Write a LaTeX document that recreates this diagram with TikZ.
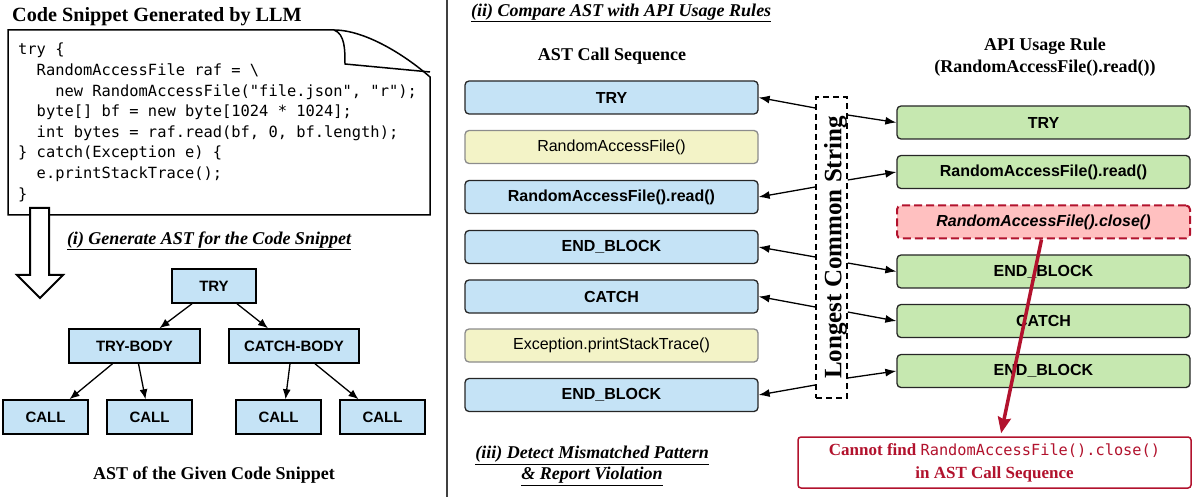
\documentclass[tikz,border=0pt]{standalone}
\usepackage{fontspec}
\setmainfont{Liberation Serif}
\setsansfont{Liberation Sans}
\setmonofont{DejaVu Sans Mono}
\usetikzlibrary{arrows.meta, calc}

\definecolor{astblue}{RGB}{197,227,246}
\definecolor{callyellow}{RGB}{243,243,199}
\definecolor{rulegreen}{RGB}{198,232,176}
\definecolor{misspink}{RGB}{255,192,192}
\definecolor{alertred}{RGB}{178,18,45}

\tikzset{
  astnode/.style={draw, line width=1.5pt, fill=astblue, minimum height=34, inner sep=0pt, font=\sffamily\bfseries\fontsize{15}{18}\selectfont},
  seqbox/.style={draw=black!85, line width=1.3pt, rounded corners=4pt, minimum width=293, minimum height=33, inner sep=0pt, font=\sffamily\bfseries\fontsize{16}{19}\selectfont},
  callbox/.style={seqbox, fill=astblue},
  otherbox/.style={seqbox, draw=black!45, fill=callyellow, font=\sffamily\fontsize{16}{19}\selectfont},
  rulebox/.style={seqbox, fill=rulegreen},
  missbox/.style={seqbox, draw=alertred, dash pattern=on 8pt off 4pt, line width=2pt, fill=misspink, font=\sffamily\bfseries\itshape\fontsize{16}{19}\selectfont},
  heading/.style={font=\bfseries\fontsize{18}{22}\selectfont, align=center, inner sep=0pt},
  steptitle/.style={font=\bfseries\itshape\fontsize{18}{21}\selectfont, align=center, inner sep=0pt},
  link/.style={line width=1.3pt, -{Latex[length=11pt,width=8pt]}},
  treelink/.style={line width=1.3pt, -{Latex[length=10pt,width=8pt]}},
}

\begin{document}
\begin{tikzpicture}[x=1pt,y=1pt,yscale=-1]
\useasboundingbox (0,0) rectangle (1192,497);

% code snippet
\node[heading, font=\bfseries\fontsize{20.2}{23}\selectfont, anchor=west] (codetitle) at (12,17) {Code Snippet Generated by LLM};
\draw[line width=1.5pt, fill=white] (8,215) -- (8,30) -- (334,30) .. controls (365,30) and (405,55) .. (430,77) -- (430,215) -- cycle;
\draw[line width=1.5pt] (334,30) .. controls (345,34) and (345,50) .. (345,64) -- (430,72);
\node[anchor=north west, align=left, inner sep=0pt, font=\ttfamily\fontsize{15.4}{20.6}\selectfont] (code) at (18,43) {try \{\\
~~RandomAccessFile raf = \textbackslash\\
~~~~new RandomAccessFile("file.json", "r");\\
~~byte[] bf = new byte[1024 * 1024];\\
~~int bytes = raf.read(bf, 0, bf.length);\\
\} catch(Exception e) \{\\
~~e.printStackTrace();\\
\}};

% hollow arrow down to the tree
\draw[line width=2pt, fill=white] (30,208) -- (30,275) -- (17,275) -- (40,298) -- (63,275) -- (49,275) -- (49,208) -- cycle;

% (i) AST
\node[steptitle] (stepone) at (209,241) {\underline{(i) Generate AST for the Code Snippet}};
\node[astnode, minimum width=84] (try) at (214,286) {TRY};
\node[astnode, minimum width=131] (trybody) at (134.5,346) {TRY-BODY};
\node[astnode, minimum width=130] (catchbody) at (294,346) {CATCH-BODY};
\node[astnode, minimum width=85] (callA) at (45.5,417) {CALL};
\node[astnode, minimum width=85] (callB) at (149.5,417) {CALL};
\node[astnode, minimum width=85] (callC) at (278.5,417) {CALL};
\node[astnode, minimum width=85] (callD) at (382.5,417) {CALL};
\draw[treelink] ($(try.south)+(-22,0)$) -- ($(trybody.north)+(25,0)$);
\draw[treelink] ($(try.south)+(23,0)$) -- ($(catchbody.north)+(-26,0)$);
\draw[treelink] ($(trybody.south)+(-22,0)$) -- ($(callA.north)+(24,0)$);
\draw[treelink] ($(trybody.south)+(4,0)$) -- ($(callB.north)+(-4,0)$);
\draw[treelink] ($(catchbody.south)+(-4,0)$) -- ($(callC.north)+(7,0)$);
\draw[treelink] ($(catchbody.south)+(21,0)$) -- ($(callD.north)+(-24,0)$);
\node[heading] (asttitle) at (214,475) {AST of the Given Code Snippet};

% separator
\draw[line width=2pt, black!75] (447,0) -- (447,497);

% (ii) compare
\node[steptitle, anchor=west] (steptwo) at (471,13) {\underline{(ii) Compare AST with API Usage Rules}};
\node[heading] (seqtitle) at (612,56) {AST Call Sequence};
\node[callbox] (asttry) at (611.5,97.5) {TRY};
\node[otherbox] (astraf) at (611.5,147) {RandomAccessFile()};
\node[callbox] (astread) at (611.5,197) {RandomAccessFile().read()};
\node[callbox] (astend) at (611.5,247) {END\_BLOCK};
\node[callbox] (astcatch) at (611.5,296.5) {CATCH};
\node[otherbox] (astprint) at (611.5,345.5) {Exception.printStackTrace()};
\node[callbox] (astendb) at (611.5,395) {END\_BLOCK};

\node[heading] (ruletitle) at (1045,57) {API Usage Rule\\(RandomAccessFile().read())};
\node[rulebox] (ruletry) at (1043.5,122.5) {TRY};
\node[rulebox] (ruleread) at (1043.5,172) {RandomAccessFile().read()};
\node[missbox] (ruleclose) at (1043.5,222) {RandomAccessFile().close()};
\node[rulebox] (ruleend) at (1043.5,271.5) {END\_BLOCK};
\node[rulebox] (rulecatch) at (1043.5,321) {CATCH};
\node[rulebox] (ruleendb) at (1043.5,371) {END\_BLOCK};

\node[draw, dash pattern=on 6pt off 4pt, line width=1.5pt, minimum width=31, minimum height=301, inner sep=0pt] (lcs) at (831.5,247.5) {};
\node[rotate=90, inner sep=0pt, font=\bfseries\fontsize{25}{28}\selectfont] (lcslabel) at ($(lcs.center)+(4,0)$) {Longest Common String};

\draw[link] ($(lcs.west)+(0,-139.5)$) -- (asttry.east);
\draw[link] ($(lcs.west)+(0,-60.5)$) -- (astread.east);
\draw[link] ($(lcs.west)+(0,9.5)$) -- (astend.east);
\draw[link] ($(lcs.west)+(0,59.5)$) -- (astcatch.east);
\draw[link] ($(lcs.west)+(0,137.5)$) -- (astendb.east);
\draw[link] ($(lcs.east)+(0,-132.5)$) -- (ruletry.west);
\draw[link] ($(lcs.east)+(0,-67.5)$) -- (ruleread.west);
\draw[link] ($(lcs.east)+(0,15.5)$) -- (ruleend.west);
\draw[link] ($(lcs.east)+(0,64.5)$) -- (rulecatch.west);
\draw[link] ($(lcs.east)+(0,130.5)$) -- (ruleendb.west);

% (iii) report
\node[steptitle] (stepthree) at (592,466) {\underline{(iii) Detect Mismatched Pattern}\\\underline{\& Report Violation}};
\node[draw=alertred, line width=1.5pt, rounded corners=3pt, fill=white, text=alertred, minimum width=393, minimum height=51, align=center, inner sep=0pt, font=\bfseries\fontsize{17}{23}\selectfont] (result) at (994.5,462.5) {Cannot find {\mdseries\ttfamily\fontsize{15.3}{23}\selectfont RandomAccessFile().close()}\\in AST Call Sequence};
\draw[line width=3.5pt, alertred, -{Stealth[length=16pt,width=13pt,inset=2pt]}, shorten >=3pt] ($(ruleclose.south)+(-2,0)$) -- ($(result.north)+(6,0)$);

\end{tikzpicture}
\end{document}
